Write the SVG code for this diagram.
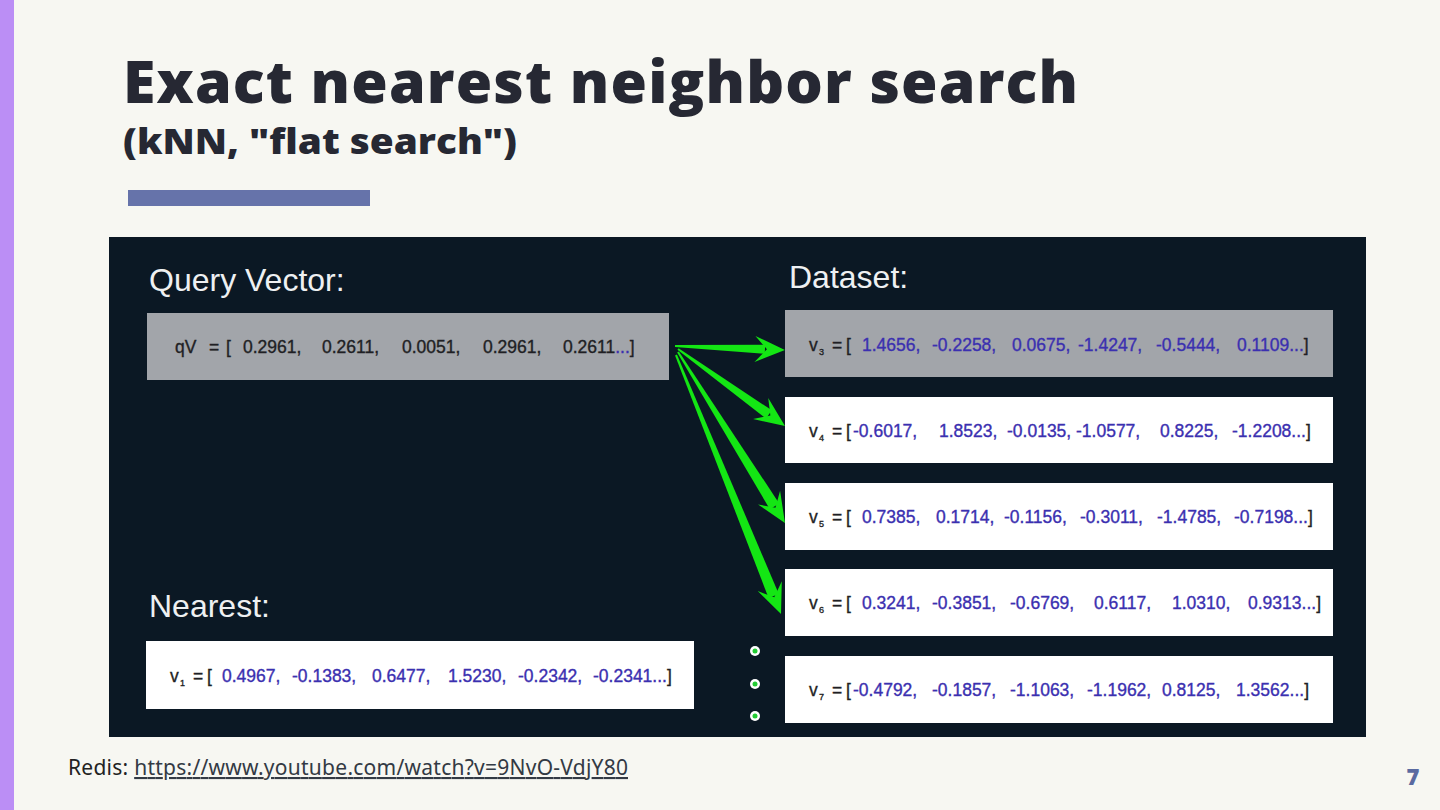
<svg xmlns="http://www.w3.org/2000/svg" width="1440" height="810" viewBox="0 0 1440 810">
<style>
.title{font-family:"Open Sans","Lato","Liberation Sans",sans-serif;font-weight:800;fill:#262833}
.head{font-family:"Liberation Sans",Arial,sans-serif;font-size:32px;fill:#eef0f2}
.vt{font-family:"Liberation Sans",Arial,sans-serif;font-size:17.5px;fill:#1f1f24;stroke:#1f1f24;stroke-width:0.35}
.n{fill:#3b30b0;stroke:#3b30b0}
.sub{font-size:9px}
.gbox{fill:#a2a5aa}
.wbox{fill:#ffffff}
.arrow{fill:#14e614}
.foot{font-family:"Source Sans Pro","Noto Sans","Open Sans",sans-serif;font-size:21px;fill:#222}
</style>
<rect x="0" y="0" width="1440" height="810" fill="#f7f7f2"/>
<rect x="0" y="0" width="14" height="810" fill="#bb8ef5"/>
<text class="title" x="123" y="103" font-size="59" textLength="955" lengthAdjust="spacing">Exact nearest neighbor search</text>
<text class="title" x="123" y="154" font-size="35" textLength="394" lengthAdjust="spacingAndGlyphs">(kNN, "flat search")</text>
<rect x="128" y="190" width="242" height="16" fill="#6673aa"/>
<rect x="109" y="237" width="1257" height="500" fill="#0b1824"/>
<text class="head" x="149" y="291">Query Vector:</text>
<text class="head" x="789" y="288">Dataset:</text>
<text class="head" x="149" y="617">Nearest:</text>

<g id="node-qV">
<rect class="gbox" x="147" y="313" width="522" height="67"/>
<text class="vt" y="353"><tspan x="175">qV</tspan><tspan x="209">=</tspan><tspan x="226">[</tspan><tspan x="243">0.2961,</tspan><tspan x="322">0.2611,</tspan><tspan x="402">0.0051,</tspan><tspan x="483">0.2961,</tspan><tspan x="563">0.2611</tspan><tspan class="n">...</tspan><tspan>]</tspan></text>
</g>

<g id="node-v3">
<rect class="gbox" x="785" y="310" width="548" height="67"/>
<text class="vt" y="351"><tspan x="809">v</tspan><tspan class="sub" x="819" dy="4">3</tspan><tspan x="832" dy="-4">=</tspan><tspan x="846">[</tspan><tspan class="n" x="862">1.4656,</tspan><tspan class="n" x="932">-0.2258,</tspan><tspan class="n" x="1012">0.0675,</tspan><tspan class="n" x="1078">-1.4247,</tspan><tspan class="n" x="1156">-0.5444,</tspan><tspan class="n" x="1237">0.1109...</tspan><tspan>]</tspan></text>
</g>

<g id="node-v4">
<rect class="wbox" x="785" y="397" width="548" height="66"/>
<text class="vt" y="437"><tspan x="809">v</tspan><tspan class="sub" x="819" dy="4">4</tspan><tspan x="832" dy="-4">=</tspan><tspan x="846">[</tspan><tspan class="n" x="853">-0.6017,</tspan><tspan class="n" x="939">1.8523,</tspan><tspan class="n" x="1007">-0.0135,</tspan><tspan class="n" x="1076">-1.0577,</tspan><tspan class="n" x="1160">0.8225,</tspan><tspan class="n" x="1232">-1.2208...</tspan><tspan>]</tspan></text>
</g>

<g id="node-v5">
<rect class="wbox" x="785" y="483" width="548" height="67"/>
<text class="vt" y="523"><tspan x="809">v</tspan><tspan class="sub" x="819" dy="4">5</tspan><tspan x="832" dy="-4">=</tspan><tspan x="846">[</tspan><tspan class="n" x="862">0.7385,</tspan><tspan class="n" x="936">0.1714,</tspan><tspan class="n" x="1004">-0.1156,</tspan><tspan class="n" x="1080">-0.3011,</tspan><tspan class="n" x="1157">-1.4785,</tspan><tspan class="n" x="1234">-0.7198...</tspan><tspan>]</tspan></text>
</g>

<g id="node-v6">
<rect class="wbox" x="785" y="569" width="548" height="67"/>
<text class="vt" y="609"><tspan x="809">v</tspan><tspan class="sub" x="819" dy="4">6</tspan><tspan x="832" dy="-4">=</tspan><tspan x="846">[</tspan><tspan class="n" x="862">0.3241,</tspan><tspan class="n" x="932">-0.3851,</tspan><tspan class="n" x="1010">-0.6769,</tspan><tspan class="n" x="1094">0.6117,</tspan><tspan class="n" x="1172">1.0310,</tspan><tspan class="n" x="1248">0.9313...</tspan><tspan>]</tspan></text>
</g>

<g id="node-v7">
<rect class="wbox" x="785" y="656" width="548" height="67"/>
<text class="vt" y="696"><tspan x="809">v</tspan><tspan class="sub" x="819" dy="4">7</tspan><tspan x="832" dy="-4">=</tspan><tspan x="846">[</tspan><tspan class="n" x="853">-0.4792,</tspan><tspan class="n" x="932">-0.1857,</tspan><tspan class="n" x="1010">-1.1063,</tspan><tspan class="n" x="1087">-1.1962,</tspan><tspan class="n" x="1162">0.8125,</tspan><tspan class="n" x="1236">1.3562...</tspan><tspan>]</tspan></text>
</g>

<g id="node-v1">
<rect class="wbox" x="146" y="641" width="548" height="68"/>
<text class="vt" y="682"><tspan x="170">v</tspan><tspan class="sub" x="180" dy="4">1</tspan><tspan x="193" dy="-4">=</tspan><tspan x="207">[</tspan><tspan class="n" x="222">0.4967,</tspan><tspan class="n" x="292">-0.1383,</tspan><tspan class="n" x="372">0.6477,</tspan><tspan class="n" x="448">1.5230,</tspan><tspan class="n" x="518">-0.2342,</tspan><tspan class="n" x="593">-0.2341...</tspan><tspan>]</tspan></text>
</g>

<g id="dots">
<circle cx="755" cy="651" r="5" fill="#ffffff"/><circle cx="755" cy="651" r="2.5" fill="#22cc33"/>
<circle cx="755" cy="684" r="5" fill="#ffffff"/><circle cx="755" cy="684" r="2.5" fill="#22cc33"/>
<circle cx="755" cy="716" r="5" fill="#ffffff"/><circle cx="755" cy="716" r="2.5" fill="#22cc33"/>
</g>

<g id="connectors" class="arrow">
<g transform="translate(675,346) rotate(2.08)">
<path d="M0,-1 L90,-4.5 L90,4.5 L0,1 Z"/>
<path d="M110,0 L80,-13 L92,0 L80,13 Z"/>
</g>
<g transform="translate(678,349) rotate(35.74)">
<path d="M0,-1 L112,-5 L112,5 L0,1 Z"/>
<path d="M131.8,0 L101.8,-13 L113.8,0 L101.8,13 Z"/>
</g>
<g transform="translate(678,352) rotate(57.97)">
<path d="M0,-1 L182,-5.5 L182,5.5 L0,1 Z"/>
<path d="M201.7,0 L171.7,-13 L183.7,0 L171.7,13 Z"/>
</g>
<g transform="translate(676,355) rotate(67.93)">
<path d="M0,-1 L260,-5.5 L260,5.5 L0,1 Z"/>
<path d="M279.5,0 L249.5,-13 L261.5,0 L249.5,13 Z"/>
</g>
</g>

<text class="foot" x="68" y="775" textLength="560" lengthAdjust="spacing">Redis: <tspan fill="#333a44" text-decoration="underline">https://www.youtube.com/watch?v=9NvO-VdjY80</tspan></text>
<text x="1413" y="785" text-anchor="middle" font-family="'Open Sans','Liberation Sans',sans-serif" font-weight="800" font-size="22" fill="#5a6aa0">7</text>
</svg>
